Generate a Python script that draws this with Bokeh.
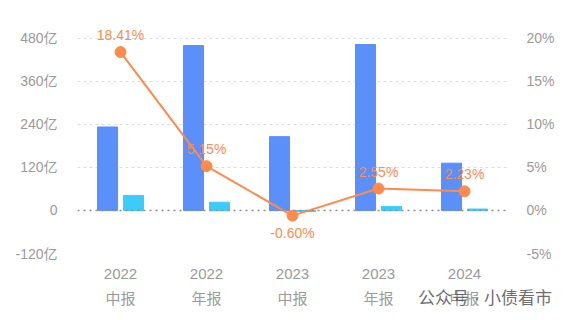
from bokeh.plotting import figure
from bokeh.models import Range1d, LinearAxis, FixedTicker, Span, Div, ColumnDataSource
from bokeh.layouts import column
from bokeh.core.properties import value
from bokeh.embed import file_html
from bokeh.resources import INLINE

categories = ["2022\n中报", "2022\n年报", "2023\n中报", "2023\n年报", "2024\n中报"]
series_a = [233, 460, 206, 463, 132]      # 亿 (blue)
series_b = [42, 23, -3, 11, 4]            # 亿 (cyan)
rate = [18.41, 5.15, -0.60, 2.55, 2.23]   # % (orange line)
left_ticks = [-120, 0, 120, 240, 360, 480]
right_ticks = [-5, 0, 5, 10, 15, 20]
watermark = "公众号 · 小债看市"

BLUE = "#5B8FF9"
CYAN = "#3DCBFA"
ORANGE = "#FF8A4C"
GRAY = "#9a9a9a"
FONT = "Liberation Sans, Noto Sans CJK SC"

x = [i + 0.5 for i in range(len(categories))]

p = figure(width=567, height=320, output_backend="svg", toolbar_location=None,
           x_range=Range1d(0, len(categories)), y_range=Range1d(-120, 530),
           min_border_left=77, min_border_right=60, min_border_top=20, min_border_bottom=67)
p.outline_line_color = None
p.background_fill_color = "white"
p.border_fill_color = "white"
p.extra_y_ranges = {"pct": Range1d(-5, 530 / 24)}

p.vbar(x=[v - 0.151 for v in x], top=series_a, width=0.233, color=BLUE)
p.vbar(x=[v + 0.151 for v in x], top=series_b, width=0.233, color=CYAN)

zero = Span(location=0, dimension="width", line_color="#8c8c8c", line_dash="2 4", line_width=1.5)
p.add_layout(zero)

p.line(x, rate, y_range_name="pct", line_color=ORANGE, line_width=2)
p.scatter(x, rate, y_range_name="pct", size=11, color=ORANGE)

src = ColumnDataSource(dict(x=x, y=rate, t=["%.2f%%" % r for r in rate],
                            off=[-17 if r >= 0 else 17 for r in rate]))
p.text(x="x", y="y", text="t", y_offset="off", source=src, y_range_name="pct",
       text_color=ORANGE, text_font=value(FONT), text_font_size="14px",
       text_align="center", text_baseline="middle")

# axes
p.xaxis.ticker = FixedTicker(ticks=x)
p.xaxis.major_label_overrides = {v: c for v, c in zip(x, categories)}
p.xaxis.axis_line_color = None
p.xaxis.major_tick_line_color = None
p.xaxis.minor_tick_line_color = None
p.xaxis.major_label_text_color = GRAY
p.xaxis.major_label_text_font = FONT
p.xaxis.major_label_text_font_size = "15px"
p.xaxis.major_label_text_line_height = 1.5
p.xaxis.major_label_standoff = 5

p.yaxis.ticker = FixedTicker(ticks=left_ticks)
p.yaxis.major_label_overrides = {t: ("0" if t == 0 else "%d亿" % t) for t in left_ticks}
p.yaxis.axis_line_color = None
p.yaxis.major_tick_line_color = None
p.yaxis.minor_tick_line_color = None
p.yaxis.major_label_text_color = GRAY
p.yaxis.major_label_text_font = FONT
p.yaxis.major_label_text_font_size = "14px"
p.yaxis.major_label_standoff = 14

ra = LinearAxis(y_range_name="pct", ticker=FixedTicker(ticks=right_ticks))
ra.major_label_overrides = {t: "%d%%" % t for t in right_ticks}
ra.axis_line_color = None
ra.major_tick_line_color = None
ra.minor_tick_line_color = None
ra.major_label_text_color = GRAY
ra.major_label_text_font = FONT
ra.major_label_text_font_size = "14px"
ra.major_label_standoff = 13
p.add_layout(ra, "right")

p.xgrid.grid_line_color = None
p.ygrid.ticker = FixedTicker(ticks=[t for t in left_ticks if t != 0])
p.ygrid.grid_line_color = "#dddddd"
p.ygrid.grid_line_dash = "3 3"

wm = Div(text=watermark, width=150, height=0,
         styles={"position": "relative", "left": "413px", "top": "-38px",
                 "color": "#555555", "opacity": "0.85", "font-size": "17px",
                 "font-family": FONT, "white-space": "nowrap", "overflow": "visible",
                 "pointer-events": "none"})

layout = column(p, wm, spacing=0)
open("out.html", "w").write(file_html(layout, INLINE))
